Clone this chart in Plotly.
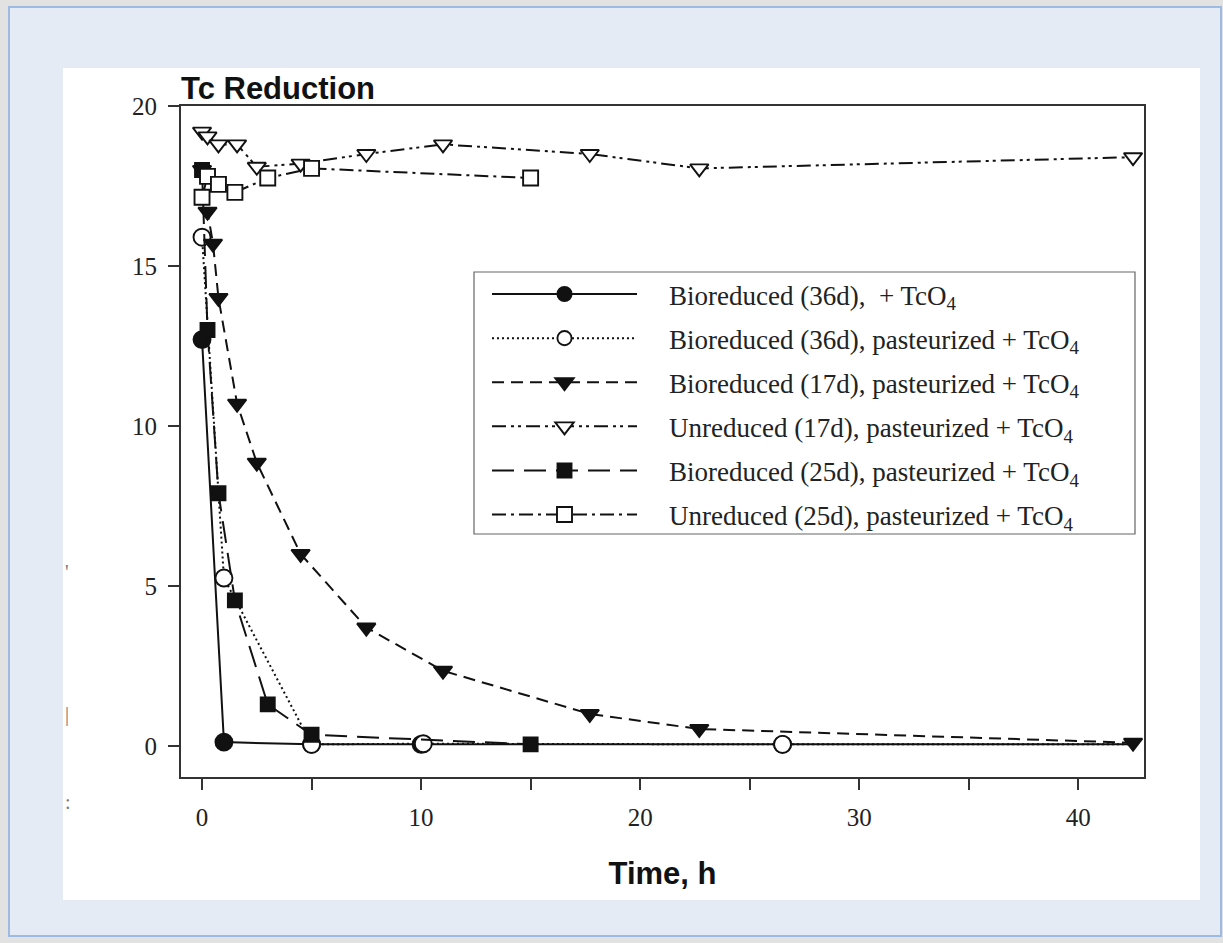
import plotly.graph_objects as go

# ---------------- data ----------------
names = [
    "Bioreduced (36d),\u00a0 + TcO<sub>4</sub>",
    "Bioreduced (36d), pasteurized + TcO<sub>4</sub>",
    "Bioreduced (17d), pasteurized + TcO<sub>4</sub>",
    "Unreduced (17d), pasteurized + TcO<sub>4</sub>",
    "Bioreduced (25d), pasteurized + TcO<sub>4</sub>",
    "Unreduced (25d), pasteurized + TcO<sub>4</sub>",
]

t_bio36 = [0, 1, 5, 10, 26.5, 42.5]
c_bio36 = [12.7, 0.12, 0.05, 0.05, 0.05, 0.05]

t_bio36p = [0, 1, 5, 10.1, 26.5, 42.5]
c_bio36p = [15.9, 5.25, 0.05, 0.07, 0.05, 0.05]

t_bio17p = [0, 0.25, 0.5, 0.75, 1.6, 2.5, 4.5, 7.5, 11, 17.7, 22.7, 42.5]
c_bio17p = [18.0, 16.7, 15.7, 14.0, 10.7, 8.85, 6.0, 3.7, 2.35, 1.0, 0.53, 0.1]

t_unr17p = [0, 0.25, 0.75, 1.6, 2.5, 4.5, 7.5, 11, 17.7, 22.7, 42.5]
c_unr17p = [19.2, 19.05, 18.8, 18.8, 18.1, 18.2, 18.5, 18.8, 18.5, 18.05, 18.4]

t_bio25p = [0, 0.25, 0.75, 1.5, 3, 5, 15]
c_bio25p = [18.0, 13.0, 7.9, 4.55, 1.3, 0.35, 0.05]

t_unr25p = [0, 0.25, 0.75, 1.5, 3, 5, 15]
c_unr25p = [17.15, 17.8, 17.55, 17.3, 17.75, 18.05, 17.75]

x_ticks = [0, 10, 20, 30, 40]
y_ticks = [0, 5, 10, 15, 20]

# ---------------- styling ----------------
W, H = 1223, 943
L, R, T, B = 181, 1144, 106, 777
pw, ph = R - L, B - T

def px_x(p):
    return (p - L) / pw

def px_y(p):
    return (B - p) / ph

serif = "Liberation Serif, Times New Roman, serif"
sans = "Liberation Sans, Arial, sans-serif"
ink = "#111111"
gap = "\u00a0" * 4

fig = go.Figure()

def add(i, x, y, symbol, fill, dash, size, hide_last=False):
    sizes = [size] * len(x)
    if hide_last:
        sizes[-1] = 0
    fig.add_trace(go.Scatter(
        x=x, y=y, name=gap + names[i], mode="lines+markers",
        legendgroup="g%d" % i,
        line=dict(color=ink, width=2, dash=dash),
        marker=dict(symbol=symbol, size=sizes, color=fill, opacity=1,
                    line=dict(color=ink, width=1.9)),
    ))

add(0, t_bio36, c_bio36, "circle", ink, "solid", 17, True)
add(1, t_bio36p, c_bio36p, "circle", "white", "2px,3px", 17, True)
add(2, t_bio17p, c_bio17p, "triangle-down", ink, "12px,7px", 16)
add(3, t_unr17p, c_unr17p, "triangle-down", "white", "14px,5px,3px,4px,3px,5px", 16)
add(4, t_bio25p, c_bio25p, "square", ink, "22px,10px", 14)
add(5, t_unr25p, c_unr25p, "square", "white", "14px,5px,3px,5px", 15)

shapes = [
    # outer tinted frame
    dict(type="rect", xref="paper", yref="paper", layer="below",
         x0=px_x(9), x1=px_x(1221), y0=px_y(936), y1=px_y(7),
         fillcolor="#e4ebf4", line=dict(color="#9dbbe0", width=2)),
    # white card
    dict(type="rect", xref="paper", yref="paper", layer="below",
         x0=px_x(63), x1=px_x(1200), y0=px_y(900), y1=px_y(68),
         fillcolor="white", line=dict(width=0)),
    # legend box
    dict(type="rect", xref="paper", yref="paper", layer="below",
         x0=px_x(474), x1=px_x(1135), y0=px_y(534), y1=px_y(272),
         fillcolor="white", line=dict(color="#666", width=1.2)),
]

annotations = [
    dict(text="<b>Tc Reduction</b>", xref="paper", yref="paper",
         x=px_x(179), y=px_y(88), xanchor="left", yanchor="middle",
         showarrow=False, font=dict(family=sans, size=31, color=ink)),
    dict(text="'", xref="paper", yref="paper", x=px_x(63), y=px_y(585),
         showarrow=False, font=dict(family=serif, size=20, color="#777")),
    dict(text="|", xref="paper", yref="paper", x=px_x(63), y=px_y(728),
         showarrow=False, font=dict(family=serif, size=20, color="#777")),
    dict(text=":", xref="paper", yref="paper", x=px_x(63), y=px_y(815),
         showarrow=False, font=dict(family=serif, size=20, color="#777")),
]

axis_common = dict(
    showgrid=False, zeroline=False, showline=True, mirror=True,
    linecolor="#333", linewidth=2, ticks="outside", ticklen=11,
    tickwidth=2, tickcolor="#333",
    tickfont=dict(family=serif, size=25, color="#222"),
)

fig.update_layout(
    width=W, height=H,
    margin=dict(l=L, r=W - R, t=T, b=H - B, autoexpand=False),
    paper_bgcolor="#e2e2e2", plot_bgcolor="white",
    showlegend=True,
    legend=dict(
        x=px_x(487), y=px_y(270), xanchor="left", yanchor="top",
        bgcolor="rgba(0,0,0,0)", borderwidth=0,
        font=dict(family=serif, size=27, color="#222"),
        itemwidth=145, tracegroupgap=6,
    ),
    xaxis=dict(range=[-0.96, 43.0], tickvals=x_ticks,
               minor=dict(dtick=5, tick0=0, ticks="outside", ticklen=11,
                          tickwidth=2, tickcolor="#333", showgrid=False),
               ticklabelstandoff=6,
               title=dict(text="<b>Time, h</b>", standoff=32,
                          font=dict(family=sans, size=31, color=ink)),
               **axis_common),
    yaxis=dict(range=[-0.97, 20.0], tickvals=y_ticks,
               ticklabelstandoff=6, **axis_common),
    shapes=shapes,
    annotations=annotations,
)

fig.write_html("out.html")
